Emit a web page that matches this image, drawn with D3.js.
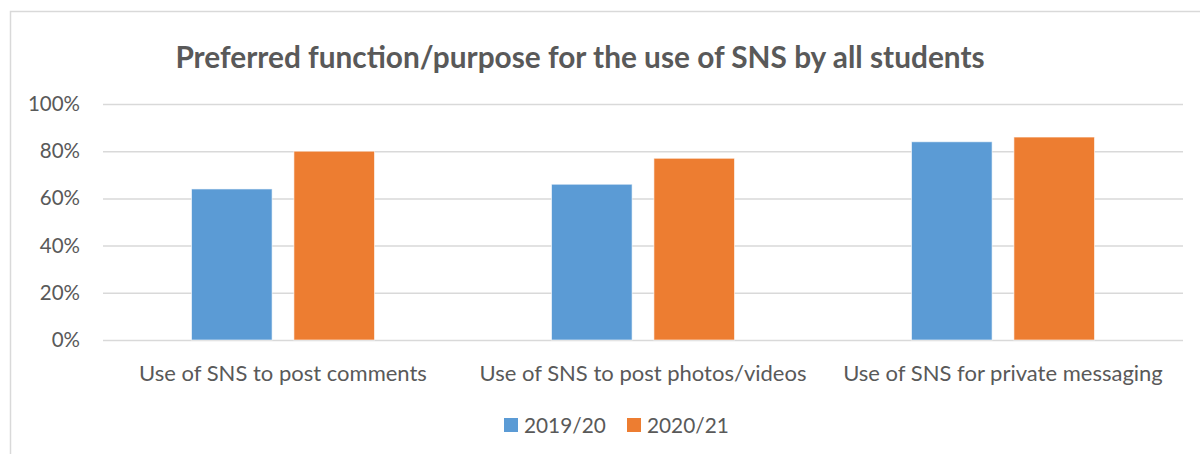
<!DOCTYPE html>
<html>
<head>
<meta charset="utf-8">
<script src="https://cdn.jsdelivr.net/npm/d3@7"></script>
<style>
  html, body { margin: 0; padding: 0; background: #fff; }
  svg { display: block; font-family: Lato, "Open Sans", sans-serif; }
</style>
</head>
<body>
<svg id="chart" width="1200" height="454"></svg>
<script>
const title = "Preferred function/purpose for the use of SNS by all students";
const categories = ["Use of SNS to post comments", "Use of SNS to post photos/videos", "Use of SNS for private messaging"];
const seriesNames = ["2019/20", "2020/21"];
const values2019 = [64, 66, 84];
const values2020 = [80, 77, 86];
const yTicks = [0, 20, 40, 60, 80, 100];
const colors = ["#5B9BD5", "#ED7D31"];

const svg = d3.select("#chart");
const textColor = "#595959";

// chart frame
svg.append("rect").attr("x", 10.5).attr("y", 11.5).attr("width", 1200).attr("height", 460)
  .attr("fill", "#fff").attr("stroke", "#d9d9d9").attr("stroke-width", 1.5);

const plot = { left: 103, right: 1183, top: 104, bottom: 340 };

const x0 = d3.scaleBand().domain(categories).range([plot.left, plot.right]).paddingInner(0).paddingOuter(0);
const y = d3.scaleLinear().domain([0, 100]).range([plot.bottom, plot.top]);
const groupW = 183;
const x1 = d3.scaleBand().domain(seriesNames)
  .range([(x0.bandwidth() - groupW) / 2, (x0.bandwidth() + groupW) / 2]).paddingInner(0.213).paddingOuter(0);
const color = d3.scaleOrdinal().domain(seriesNames).range(colors);

// gridlines + y labels
const yAxis = d3.axisLeft(y).tickValues(yTicks).tickSize(-(plot.right - plot.left)).tickFormat(d => d + "%").tickPadding(23);
const gy = svg.append("g").attr("transform", `translate(${plot.left},0)`).call(yAxis);
gy.select(".domain").remove();
gy.selectAll(".tick line").attr("stroke", "#d9d9d9").attr("stroke-width", 1.5);
gy.selectAll(".tick text").attr("fill", textColor).attr("font-size", 20.5).attr("font-family", "Lato, sans-serif");

// bars
const data = categories.map((c, i) => ({ cat: c, vals: [values2019[i], values2020[i]] }));
const groups = svg.append("g").selectAll("g").data(data).join("g")
  .attr("transform", d => `translate(${x0(d.cat)},0)`);
groups.selectAll("rect").data(d => seriesNames.map((s, j) => ({ s, v: d.vals[j] }))).join("rect")
  .attr("x", d => x1(d.s))
  .attr("y", d => y(d.v))
  .attr("width", x1.bandwidth())
  .attr("height", d => y(0) - y(d.v))
  .attr("fill", d => color(d.s))
  .attr("stroke", "rgba(255,255,255,0.6)")
  .attr("stroke-width", 1);

// x axis labels
const xAxis = d3.axisBottom(x0).tickSize(0).tickPadding(25);
const gx = svg.append("g").attr("transform", `translate(0,${plot.bottom})`).call(xAxis);
gx.select(".domain").remove();
gx.selectAll(".tick text").attr("fill", textColor).attr("font-size", 22).attr("font-family", "Lato, sans-serif");

// title
svg.append("text").attr("x", 580).attr("y", 68).attr("text-anchor", "middle")
  .attr("fill", textColor).attr("font-size", 29.8).attr("font-weight", "bold")
  .attr("font-family", "Lato, sans-serif")
  .text(title);

// legend
const legendX = d3.scaleOrdinal().domain(seriesNames).range([504, 627]);
const lg = svg.append("g").selectAll("g").data(seriesNames).join("g")
  .attr("transform", d => `translate(${legendX(d)},418)`);
lg.append("rect").attr("width", 14).attr("height", 14).attr("fill", d => color(d));
lg.append("text").attr("x", 20).attr("y", 14.5).attr("fill", textColor).attr("font-size", 20.8)
  .attr("font-family", "Lato, sans-serif").text(d => d);
</script>
</body>
</html>
